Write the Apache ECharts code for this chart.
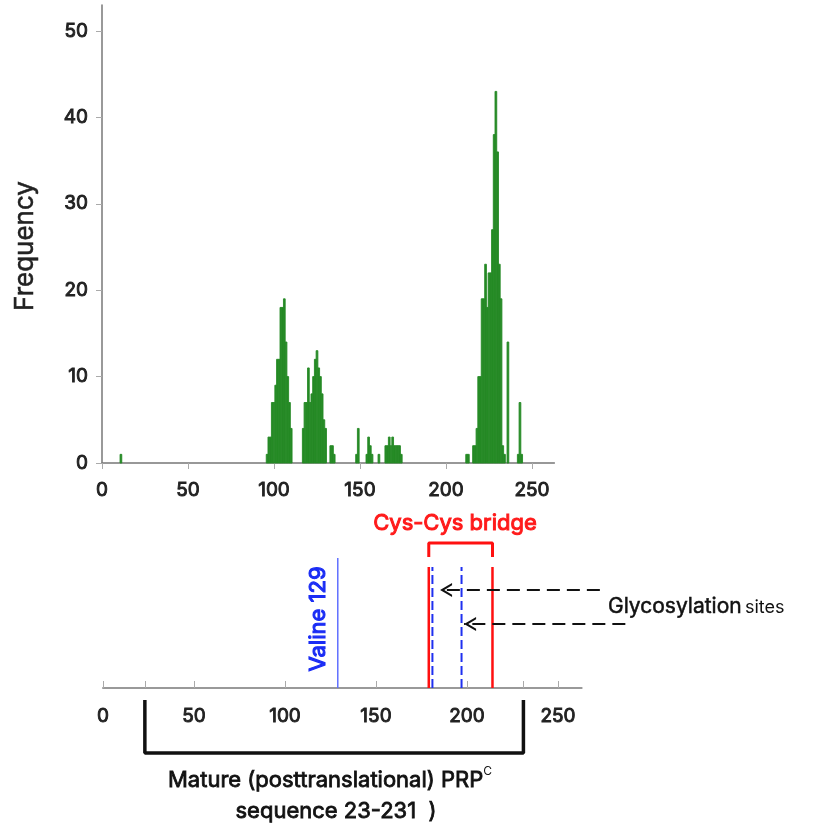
<!DOCTYPE html>
<html><head><meta charset="utf-8">
<script src="https://cdn.jsdelivr.net/npm/echarts@6/dist/echarts.min.js"></script>
<style>html,body{margin:0;padding:0;background:#fff}#c{width:827px;height:825px}</style>
</head><body><div id="c"></div>
<script>
// ---- data ----
const residues = [11,
  96,97,98,99,100,101,102,103,104,105,106,107,108,109,110,
  117,118,119,120,121,122,123,124,125,126,127,128,129,130,
  133,134,135,
  148,149,
  154,155,156,157,
  161,
  165,166,167,168,169,170,171,172,173,174,
  212,213,
  216,217,218,219,220,221,222,223,224,225,226,227,228,229,230,231,232,233,234,
  236,
  242,243,244];
const frequencies = [1,
  1,3,3,7,7,9,12,12,18,18,19,14,10,7,4,
  4,7,7,11,7,8,10,12,13,11,10,8,5,4,
  2,2,1,
  1,4,
  1,3,2,1,
  1,
  2,2,3,2,3,2,2,2,2,1,
  1,1,
  2,2,4,10,10,19,19,23,18,22,22,27,38,43,36,23,19,2,1,
  14,
  1,7,1];
const xTickValues = [0,50,100,150,200,250];
const yTickValues = [0,10,20,30,40,50];
const lowerTickValues = [0,23,50,100,150,200,231,250];
const valinePos = [129];
const cysPos = [179, 214];
const glycoPos = [181, 197];
const matureRange = [23, 231];
const arrowTails = [273, 287];
const arrowTips = [185.2, 198.4];
const arrowLevels = [98, 64];

const FONT = 'Inter';
const chart = echarts.init(document.getElementById('c'), null, {renderer:'canvas'});
const histData = residues.map((r,i)=>[r, frequencies[i]]);
const GREEN = '#268a26';

const series = [];
series.push({
  type:'custom', xAxisIndex:0, yAxisIndex:0, data:histData, encode:{x:0,y:1},
  renderItem:function(params, api){
    const x = api.value(0), f = api.value(1);
    const a = api.coord([x-0.5, f]);
    const b = api.coord([x+0.5, 0]);
    return {type:'rect', shape:{x:a[0], y:a[1], width:b[0]-a[0], height:b[1]-a[1]},
      style:{fill:GREEN, stroke:GREEN, lineWidth:0.9}};
  }
});
valinePos.forEach(p=>series.push({type:'line', xAxisIndex:1, yAxisIndex:1, data:[[p,0],[p,130]],
  symbol:'none', lineStyle:{color:'#6070ff', width:1.5}, silent:true}));
cysPos.forEach(p=>series.push({type:'line', xAxisIndex:1, yAxisIndex:1, data:[[p,0],[p,121]],
  symbol:'none', lineStyle:{color:'#ff1010', width:2.5}, silent:true}));
glycoPos.forEach(p=>series.push({type:'line', xAxisIndex:1, yAxisIndex:1, data:[[p,0],[p,121]],
  symbol:'none', lineStyle:{color:'#1f30f0', width:2, type:[9,4]}, silent:true}));
// Cys-Cys bracket
series.push({type:'line', xAxisIndex:2, yAxisIndex:2,
  data:[[cysPos[0],131],[cysPos[0],145],[cysPos[1],145],[cysPos[1],131]],
  symbol:'none', lineStyle:{color:'#ff1010', width:3}, silent:true});
// Mature bracket
series.push({type:'line', xAxisIndex:2, yAxisIndex:2,
  data:[[matureRange[0],-12],[matureRange[0],-65],[matureRange[1],-65],[matureRange[1],-12]],
  symbol:'none', lineStyle:{color:'#111', width:3.5}, silent:true});
// arrows
const chevron = 'path://M12,0 L0,7 L12,14 L12,11.8 L4.2,7 L12,2.2 Z';
arrowTails.forEach((t,i)=>series.push({type:'line', xAxisIndex:2, yAxisIndex:2,
  data:[{value:[t, arrowLevels[i]], symbol:'none'}, {value:[arrowTips[i], arrowLevels[i]]}],
  symbol:chevron, symbolSize:[12,14], symbolOffset:[6,0], showSymbol:true,
  itemStyle:{color:'#111'}, lineStyle:{color:'#111', width:2.2, type:[13,7]}, silent:true}));

const labelStyle = {fontFamily:FONT, fontSize:19, color:'#222', textBorderColor:'#222', textBorderWidth:0.9};
function med(color, w){ return {stroke:color, lineWidth:w || 0.9}; }
chart.setOption({
  animation:false,
  grid:[
    {left:102, top:5, width:263*1.72, height:458},
    {left:103, top:540, width:263*1.82, height:148},
    {left:103, top:500, width:724, height:300}
  ],
  xAxis:[
    {gridIndex:0, type:'value', min:0, max:263,
      axisLine:{show:true, lineStyle:{color:'#777', width:1.5}},
      axisTick:{show:true, length:6, lineStyle:{color:'#aaa'}, customValues:xTickValues},
      axisLabel:Object.assign({customValues:xTickValues, margin:18}, labelStyle),
      splitLine:{show:false}},
    {gridIndex:1, type:'value', min:0, max:263,
      axisLine:{show:true, lineStyle:{color:'#999', width:2}},
      axisTick:{show:true, inside:true, length:7, lineStyle:{color:'#aaa'}, customValues:lowerTickValues},
      axisLabel:Object.assign({customValues:xTickValues, margin:19}, labelStyle),
      splitLine:{show:false}},
    {gridIndex:2, type:'value', min:0, max:724/1.82, show:false}
  ],
  yAxis:[
    {gridIndex:0, type:'value', min:0, max:53,
      axisLine:{show:true, lineStyle:{color:'#777', width:1.5}},
      axisTick:{show:true, length:6, lineStyle:{color:'#aaa'}, customValues:yTickValues},
      axisLabel:Object.assign({customValues:yTickValues, margin:14}, labelStyle),
      splitLine:{show:false}},
    {gridIndex:1, type:'value', min:0, max:148, show:false},
    {gridIndex:2, type:'value', min:-112, max:188, show:false}
  ],
  series:series,
  graphic:[
    {type:'text', x:25, y:246, rotation:Math.PI/2,
      style:Object.assign({text:'Frequency', fontFamily:FONT, fontSize:26, fill:'#222', align:'center', verticalAlign:'middle'}, med('#222',0.5))},
    {type:'text', x:318, y:619, rotation:Math.PI/2,
      style:Object.assign({text:'Valine 129', fontFamily:FONT, fontSize:22, fill:'#1a2cf5', align:'center', verticalAlign:'middle'}, med('#1a2cf5',1.1))},
    {type:'text', x:455, y:523,
      style:Object.assign({text:'Cys-Cys bridge', fontFamily:FONT, fontSize:22, fill:'#ff1a1a', align:'center', verticalAlign:'middle'}, med('#ff1a1a',1))},
    {type:'text', x:608, y:605,
      style:{text:'{a|Glycosylation} {b|sites}', align:'left', verticalAlign:'middle',
        rich:{a:{fontFamily:FONT, fontSize:21, fill:'#111', stroke:'#111', lineWidth:0.5, verticalAlign:'bottom', lineHeight:24},
              b:{fontFamily:FONT, fontSize:18, fill:'#111', verticalAlign:'bottom', lineHeight:24}}}},
    {type:'text', x:330, y:778,
      style:{text:'{a|Mature (posttranslational) PRP}{s|C}', align:'center', verticalAlign:'middle',
        rich:{a:{fontFamily:FONT, fontSize:22, fill:'#111', stroke:'#111', lineWidth:0.8, lineHeight:26, verticalAlign:'bottom'},
              s:{fontFamily:FONT, fontSize:12, fill:'#111', lineHeight:14, verticalAlign:'top'}}}},
    {type:'text', x:336, y:811,
      style:Object.assign({text:'sequence 23-231  )', fontFamily:FONT, fontSize:22, fill:'#111', align:'center', verticalAlign:'middle'}, med('#111',0.8))}
  ]
});
</script>
</body></html>
